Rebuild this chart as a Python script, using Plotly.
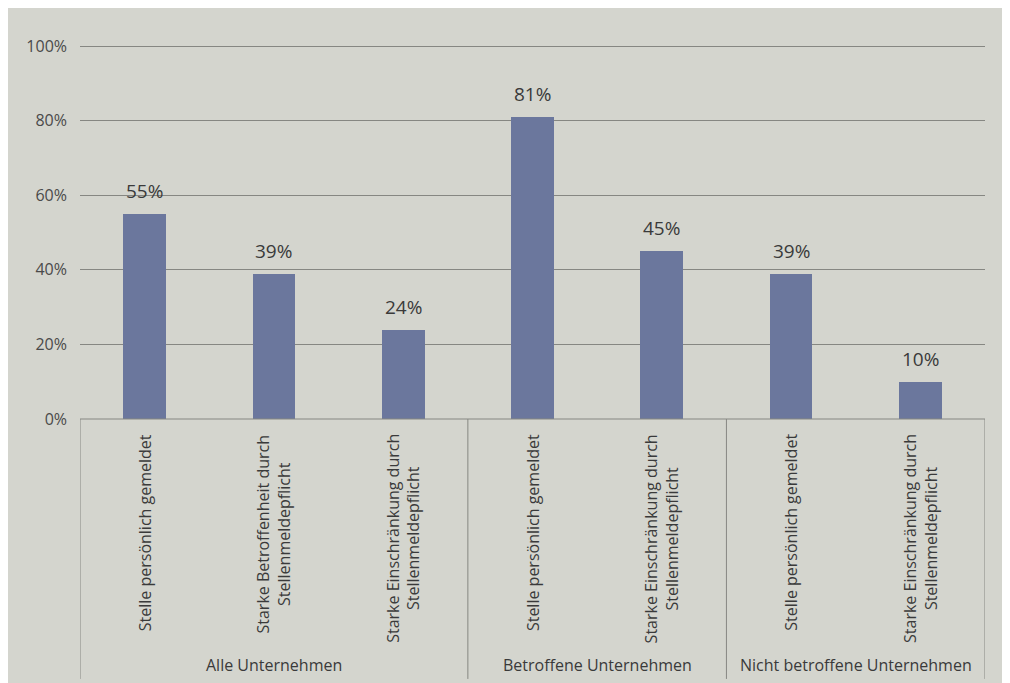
import plotly.graph_objects as go

categories = [
    "Stelle persönlich gemeldet",
    "Starke Betroffenheit durch<br>Stellenmeldepflicht",
    "Starke Einschränkung durch<br>Stellenmeldepflicht",
    "Stelle persönlich gemeldet",
    "Starke Einschränkung durch<br>Stellenmeldepflicht",
    "Stelle persönlich gemeldet",
    "Starke Einschränkung durch<br>Stellenmeldepflicht",
]
values = [0.55, 0.39, 0.24, 0.81, 0.45, 0.39, 0.10]
groups = ["Alle Unternehmen", "Betroffene Unternehmen", "Nicht betroffene Unternehmen"]
group_sizes = [3, 2, 2]
y_ticks = [0, 0.2, 0.4, 0.6, 0.8, 1.0]
y_ticklabels = ["0%", "20%", "40%", "60%", "80%", "100%"]

BG = "#d4d5ce"
BAR = "#6b779d"
LINE = "#868782"
FONT = "Open Sans, Noto Sans, sans-serif"

x = list(range(len(values)))

fig = go.Figure()
fig.add_trace(go.Bar(
    x=x, y=values, width=0.33,
    marker=dict(color=BAR, line=dict(width=0)),
    hoverinfo="skip",
))

annotations = []
# value labels
for xi, v in zip(x, values):
    annotations.append(dict(
        x=xi, y=v, xref="x", yref="y", text=f"{round(v*100)}%",
        showarrow=False, yanchor="bottom", yshift=8,
        font=dict(family=FONT, size=19, color="#3a3a3a"),
    ))
# rotated category labels
for xi, c in zip(x, categories):
    annotations.append(dict(
        x=xi, y=-0.035, xref="x", yref="paper", text=c,
        showarrow=False, textangle=-90, yanchor="top", xanchor="center",
        align="center",
        font=dict(family=FONT, size=16, color="#3a3a3a"),
    ))

shapes = []
start = -0.5
bounds = [start]
for g, n in zip(groups, group_sizes):
    end = start + n
    annotations.append(dict(
        x=(start + end) / 2, y=-0.658, xref="x", yref="paper", text=g,
        showarrow=False, yanchor="middle", xanchor="center",
        font=dict(family=FONT, size=16, color="#3a3a3a"),
    ))
    bounds.append(end)
    start = end
for b in bounds:
    shapes.append(dict(type="line", xref="x", yref="paper", x0=b, x1=b,
                       y0=0, y1=-0.695, line=dict(color=LINE, width=1)))
shapes.append(dict(type="line", xref="x", yref="paper", x0=-0.5, x1=len(values) - 0.5,
                   y0=0, y1=0, line=dict(color=LINE, width=1.2)))

fig.update_layout(
    width=1010, height=683,
    margin=dict(l=72, r=33, t=37, b=272),
    paper_bgcolor=BG, plot_bgcolor=BG,
    showlegend=False,
    bargap=0,
    xaxis=dict(range=[-0.5, len(values) - 0.5], showticklabels=False,
               showgrid=False, zeroline=False, showline=False, ticks=""),
    yaxis=dict(range=[0, 1.003], tickvals=y_ticks, ticktext=y_ticklabels,
               showgrid=True, gridcolor=LINE, gridwidth=1, zeroline=False,
               showline=False, ticks="", ticklabelstandoff=12,
               tickfont=dict(family=FONT, size=16, color="#4a4a4a")),
    annotations=annotations,
    shapes=shapes,
)

fig.write_html("out.html")
